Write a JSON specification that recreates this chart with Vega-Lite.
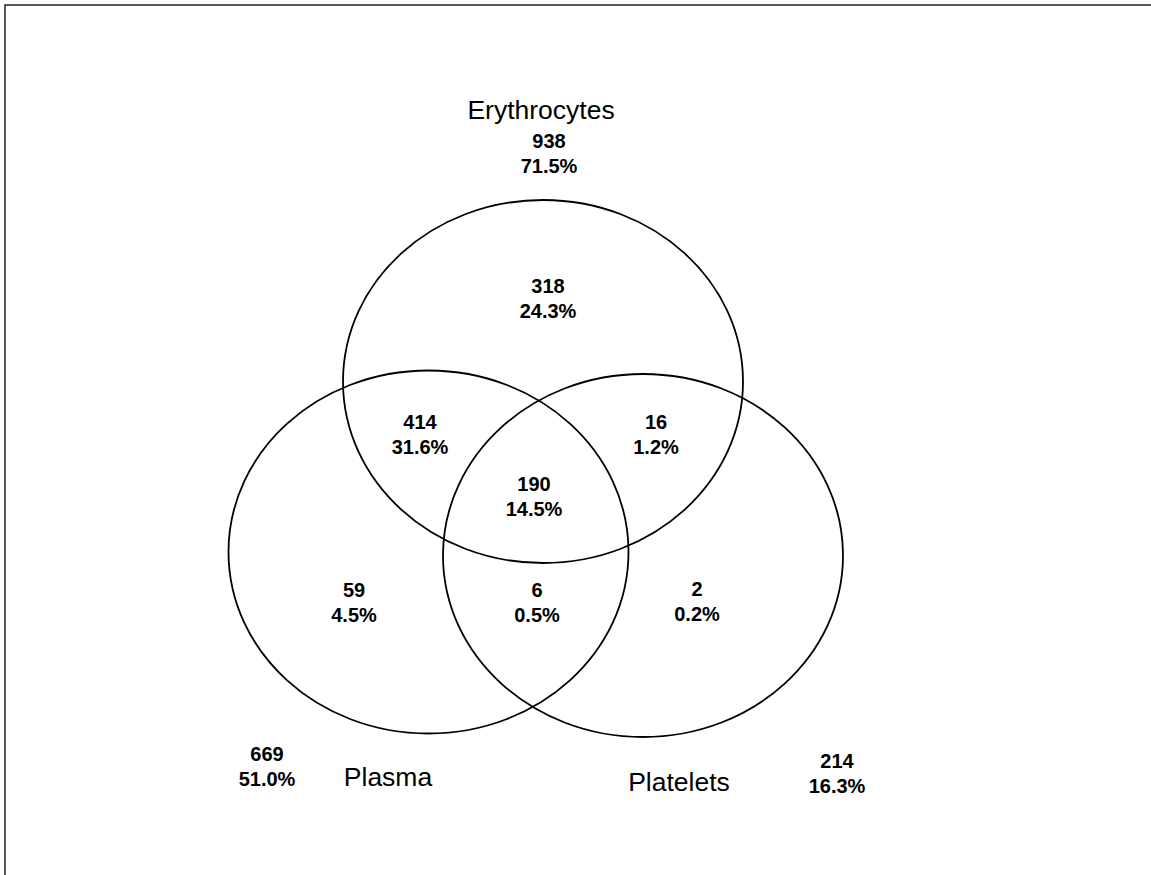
{
  "$schema": "https://vega.github.io/schema/vega-lite/v6.json",
  "autosize": {"type": "none"},
  "padding": {"left": 5, "top": 5, "right": 0, "bottom": 0},
  "width": 1160,
  "height": 880,
  "background": "white",
  "config": {
    "view": {"stroke": "#222222", "strokeWidth": 1.5},
    "text": {"font": "Liberation Sans"}
  },
  "datasets": {
    "sets": [
      {"set": "Erythrocytes", "cx": 543, "cy": 381.5, "lx": 541, "ly": 119},
      {"set": "Plasma", "cx": 428.5, "cy": 552, "lx": 388, "ly": 786},
      {"set": "Platelets", "cx": 643, "cy": 555.5, "lx": 679, "ly": 791}
    ],
    "regions": [
      {"region": "Erythrocytes total", "count": "938", "pct": "71.5%", "x": 549, "y": 148},
      {"region": "Erythrocytes only", "count": "318", "pct": "24.3%", "x": 548, "y": 293},
      {"region": "Erythrocytes & Plasma", "count": "414", "pct": "31.6%", "x": 420, "y": 429},
      {"region": "Erythrocytes & Platelets", "count": "16", "pct": "1.2%", "x": 656, "y": 429},
      {"region": "All three", "count": "190", "pct": "14.5%", "x": 534, "y": 491},
      {"region": "Plasma only", "count": "59", "pct": "4.5%", "x": 354, "y": 597},
      {"region": "Plasma & Platelets", "count": "6", "pct": "0.5%", "x": 537, "y": 597},
      {"region": "Platelets only", "count": "2", "pct": "0.2%", "x": 697, "y": 596},
      {"region": "Plasma total", "count": "669", "pct": "51.0%", "x": 267, "y": 761},
      {"region": "Platelets total", "count": "214", "pct": "16.3%", "x": 837, "y": 768}
    ]
  },
  "layer": [
    {
      "data": {"name": "sets"},
      "mark": {
        "type": "point",
        "shape": "M-1,0C-1,-0.5012,-0.5523,-0.9075,0,-0.9075C0.5523,-0.9075,1,-0.5012,1,0C1,0.5012,0.5523,0.9075,0,0.9075C-0.5523,0.9075,-1,0.5012,-1,0Z",
        "filled": false,
        "stroke": "black",
        "strokeWidth": 1.8,
        "opacity": 1,
        "size": 160000
      },
      "encoding": {
        "x": {"field": "cx", "type": "quantitative", "scale": {"domain": [5, 1165]}, "axis": null},
        "y": {"field": "cy", "type": "quantitative", "scale": {"domain": [5, 885], "reverse": true}, "axis": null}
      }
    },
    {
      "data": {"name": "sets"},
      "mark": {"type": "text", "fontSize": 26.5, "baseline": "alphabetic", "align": "center", "color": "black"},
      "encoding": {
        "x": {"field": "lx", "type": "quantitative", "scale": {"domain": [5, 1165]}, "axis": null},
        "y": {"field": "ly", "type": "quantitative", "scale": {"domain": [5, 885], "reverse": true}, "axis": null},
        "text": {"field": "set", "type": "nominal"}
      }
    },
    {
      "data": {"name": "regions"},
      "mark": {"type": "text", "fontSize": 20, "fontWeight": "bold", "baseline": "alphabetic", "align": "center", "color": "black"},
      "encoding": {
        "x": {"field": "x", "type": "quantitative", "scale": {"domain": [5, 1165]}, "axis": null},
        "y": {"field": "y", "type": "quantitative", "scale": {"domain": [5, 885], "reverse": true}, "axis": null},
        "text": {"field": "count", "type": "nominal"}
      }
    },
    {
      "data": {"name": "regions"},
      "mark": {"type": "text", "fontSize": 20, "fontWeight": "bold", "baseline": "alphabetic", "align": "center", "color": "black", "dy": 25},
      "encoding": {
        "x": {"field": "x", "type": "quantitative", "scale": {"domain": [5, 1165]}, "axis": null},
        "y": {"field": "y", "type": "quantitative", "scale": {"domain": [5, 885], "reverse": true}, "axis": null},
        "text": {"field": "pct", "type": "nominal"}
      }
    }
  ]
}
